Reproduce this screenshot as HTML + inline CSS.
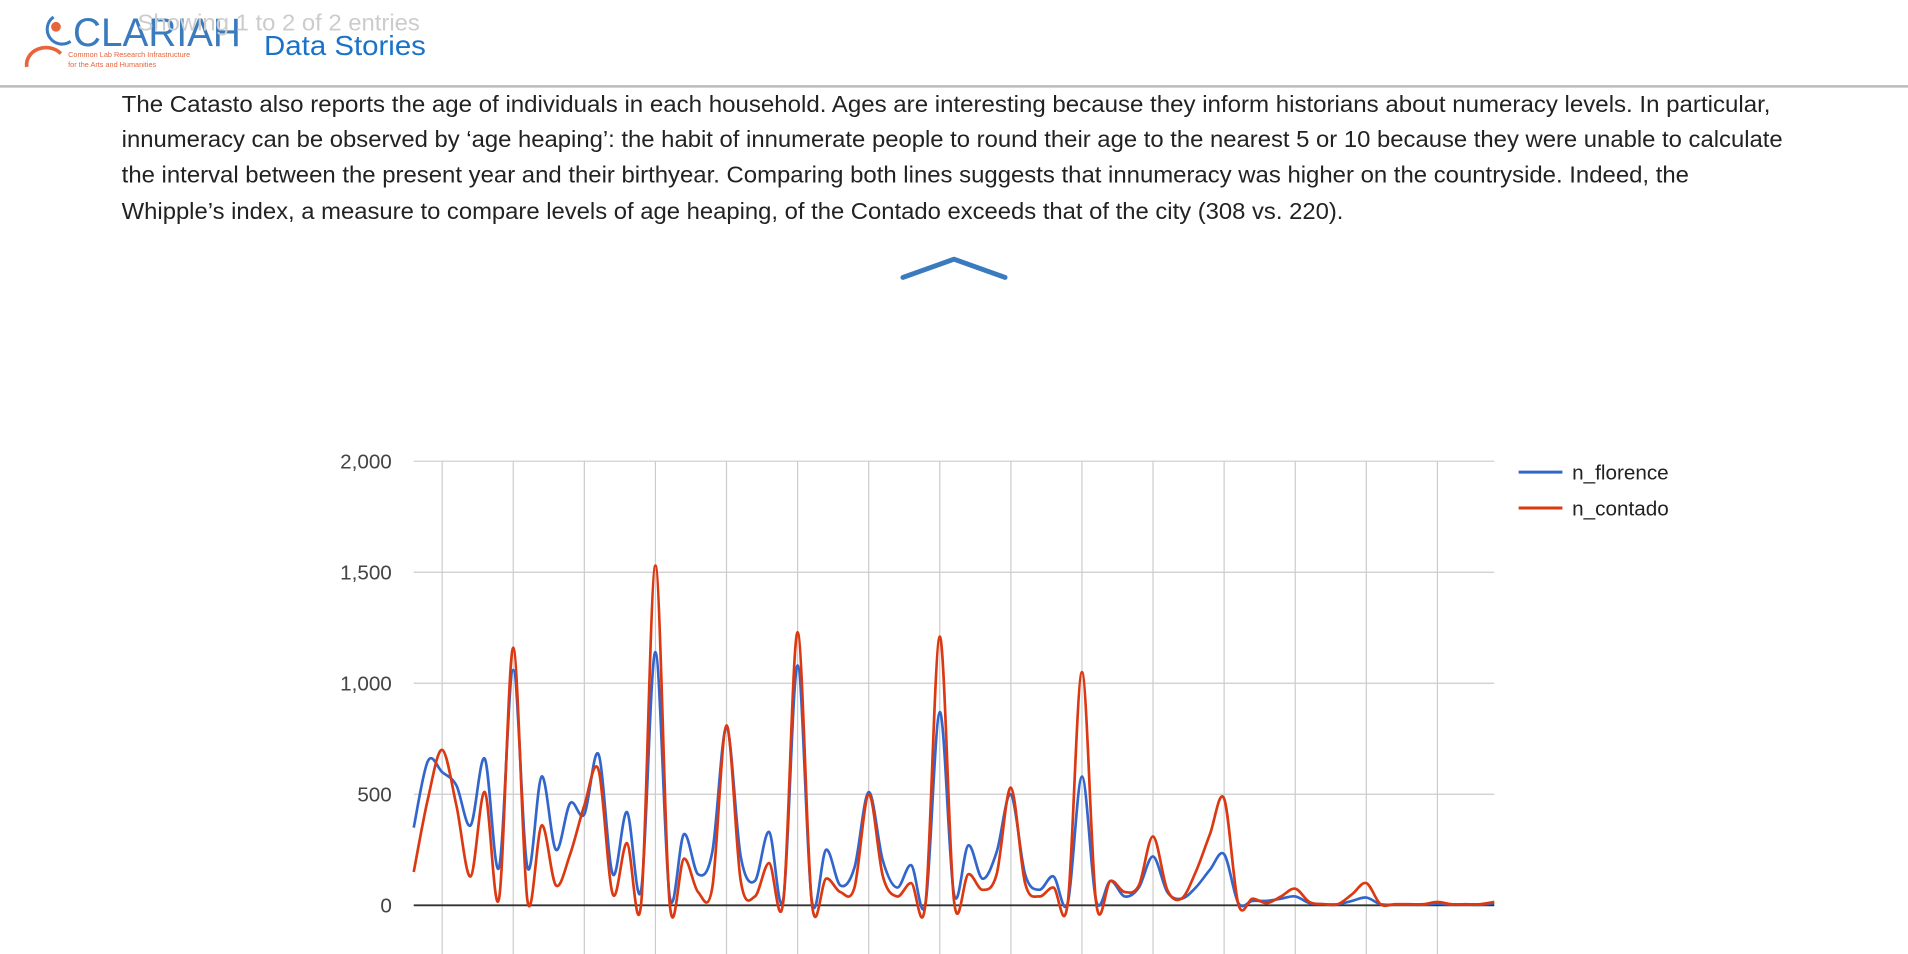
<!DOCTYPE html>
<html><head><meta charset="utf-8"><style>
html,body{margin:0;padding:0;background:#fff;overflow:hidden}
svg{display:block}
text{font-family:"Liberation Sans",Arial,sans-serif}
</style></head><body>
<svg id="page" width="1908" height="954" viewBox="0 0 1568 784" xmlns="http://www.w3.org/2000/svg">
 <g>
  <rect x="0" y="0" width="1568" height="70" fill="#fff"/>
  <line x1="0" y1="71" x2="1568" y2="71" stroke="#bbb" stroke-width="2"/>
  <g>
   <circle cx="46" cy="22" r="4" fill="#e8643c"/>
   <path d="M44 14 A10 10 0 0 0 58 34" fill="none" stroke="#3a7bbf" stroke-width="2.5"/>
   <path d="M22 55 A16 14 0 0 1 50 44" fill="none" stroke="#e8643c" stroke-width="3"/>
   <text x="60" y="38" font-size="33" fill="#3a7bbf" textLength="138" lengthAdjust="spacingAndGlyphs">CLARIAH</text>
   <text x="56" y="47" font-size="6" fill="#e8643c">Common Lab Research Infrastructure</text>
   <text x="56" y="55" font-size="6" fill="#e8643c">for the Arts and Humanities</text>
  </g>
  <text x="113" y="25" font-size="19" fill="#ccc" textLength="232" lengthAdjust="spacingAndGlyphs">Showing 1 to 2 of 2 entries</text>
  <text x="217" y="45" font-size="23" fill="#1a73c8" textLength="133" lengthAdjust="spacingAndGlyphs">Data Stories</text>
 </g>
 <g font-size="19" fill="#222">
  <text x="100" y="92" textLength="1355" lengthAdjust="spacingAndGlyphs">The Catasto also reports the age of individuals in each household. Ages are interesting because they inform historians about numeracy levels. In particular,</text>
  <text x="100" y="121" textLength="1365" lengthAdjust="spacingAndGlyphs">innumeracy can be observed by ‘age heaping’: the habit of innumerate people to round their age to the nearest 5 or 10 because they were unable to calculate</text>
  <text x="100" y="150" textLength="1288" lengthAdjust="spacingAndGlyphs">the interval between the present year and their birthyear. Comparing both lines suggests that innumeracy was higher on the countryside. Indeed, the</text>
  <text x="100" y="180" textLength="1004" lengthAdjust="spacingAndGlyphs">Whipple’s index, a measure to compare levels of age heaping, of the Contado exceeds that of the city (308 vs. 220).</text>
 </g>
 <path d="M742 228 L784 213 L826 228" fill="none" stroke="#3a7bbf" stroke-width="4" stroke-linecap="round" stroke-linejoin="round"/>
 <g id="chart"></g>
</svg>
<script>
const ages = [];
for (let a = 23; a <= 99; a++) ages.push(a);
const florence = [350,650,600,540,360,660,170,1060,170,580,250,460,410,680,140,420,70,1140,40,320,140,240,800,220,110,330,30,1080,20,250,90,170,510,200,80,180,10,870,50,270,120,240,500,140,70,130,10,580,20,110,40,80,220,60,30,80,160,230,10,20,20,30,40,10,5,5,20,35,5,3,3,3,8,3,3,3,10];
const contado = [150,480,700,450,130,510,30,1160,20,360,90,230,450,610,50,280,10,1530,10,210,60,80,810,110,40,190,20,1230,10,120,60,80,500,130,40,100,10,1210,20,140,70,140,530,100,40,80,10,1050,10,110,60,90,310,70,30,150,320,480,5,30,10,40,75,15,5,5,50,100,5,5,5,5,15,5,5,5,15];
const yTicks = [0,500,1000,1500,2000];
const yTickLabels = ["0","500","1,000","1,500","2,000"];
const xGridAges = [25,30,35,40,45,50,55,60,65,70,75,80,85,90,95];
const seriesNames = ["n_florence","n_contado"];
const seriesColors = ["#3366cc","#dc3912"];

const NS = "http://www.w3.org/2000/svg";
const g = document.getElementById("chart");
const L = 340, R = 1228, Y0 = 744, Y2000 = 379;
const xs = a => L + (a - 23) * (R - L) / (99 - 23);
const ys = v => Y0 - v * (Y0 - Y2000) / 2000;
function mk(tag, attrs){const e=document.createElementNS(NS,tag);for(const k in attrs)e.setAttribute(k,attrs[k]);g.appendChild(e);return e;}

xGridAges.forEach(a=>{
  const l = mk("line",{x1:xs(a),x2:xs(a),y1:Y2000,y2:790,stroke:"#ccc","stroke-width":1});
  
  
});
yTicks.forEach((v,i)=>{
  const l = mk("line",{x1:L,x2:R,y1:ys(v),y2:ys(v),stroke:v===0?"#333":"#ccc","stroke-width":v===0?1.5:1});
  
  
  const t = mk("text",{x:322,y:ys(v)+6,"text-anchor":"end","font-size":17,fill:"#444"});
  t.textContent = yTickLabels[i];
  
  
});
function smoothPath(vals){
  const p = vals.map((v,i)=>[xs(ages[i]), ys(v)]);
  let d = "M"+p[0][0]+" "+p[0][1];
  const k = 0.5/3;
  for(let i=0;i<p.length-1;i++){
    const p0=p[Math.max(i-1,0)],p1=p[i],p2=p[i+1],p3=p[Math.min(i+2,p.length-1)];
    const c1=[p1[0]+(p2[0]-p0[0])*k*2*0.5, p1[1]+(p2[1]-p0[1])*k*2*0.5];
    const c2=[p2[0]-(p3[0]-p1[0])*k*2*0.5, p2[1]-(p3[1]-p1[1])*k*2*0.5];
    d+=" C"+c1[0]+" "+c1[1]+" "+c2[0]+" "+c2[1]+" "+p2[0]+" "+p2[1];
  }
  return d;
}
[florence, contado].forEach((vals,si)=>{
  const path = mk("path",{d:smoothPath(vals),fill:"none",stroke:seriesColors[si],"stroke-width":2.2});
  
  
  const ly = 388 + si*29.5;
  const ll = mk("line",{x1:1248,x2:1284,y1:ly,y2:ly,stroke:seriesColors[si],"stroke-width":2.5});
  
  
  const lt = mk("text",{x:1292,y:ly+6,"font-size":17,fill:"#222"});
  lt.textContent = seriesNames[si];
  
  
});
</script>
</body></html>
